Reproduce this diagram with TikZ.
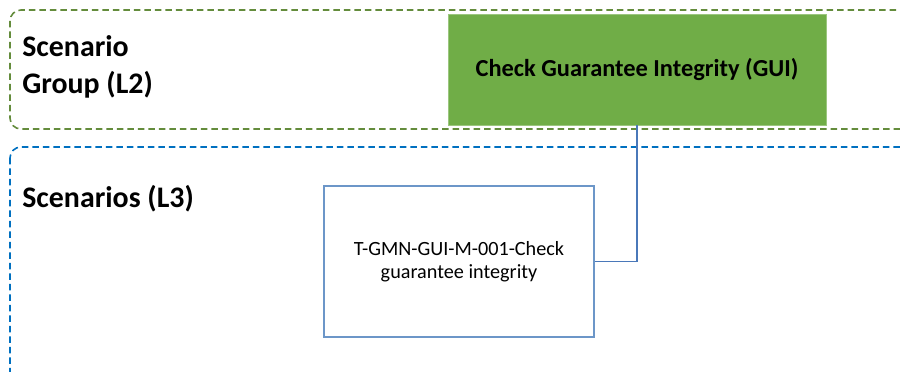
\documentclass[tikz,border=0pt]{standalone}
\usepackage{fontspec}
\setmainfont{Carlito}
\usepackage{tikz}
\definecolor{grpgreen}{RGB}{112,173,71}
\definecolor{grpdash}{RGB}{100,140,60}
\definecolor{scndash}{RGB}{0,112,192}
\definecolor{caseblue}{RGB}{108,150,200}
\definecolor{linkblue}{RGB}{74,120,185}

\begin{document}
\begin{tikzpicture}[x=0.02cm, y=-0.02cm,
	lanegrp/.style={draw=grpdash, dashed, dash pattern=on 0.13cm off 0.08cm, line width=0.9pt, rounded corners=0.22cm},
	lanescn/.style={draw=scndash, dashed, dash pattern=on 0.13cm off 0.08cm, line width=0.9pt, rounded corners=0.22cm},
	lanelbl/.style={anchor=base west, align=left, inner sep=0pt, font=\fontsize{17}{20.5}\selectfont\bfseries},
	grpbox/.style={fill=grpgreen, draw=grpgreen!70!white, line width=0.4pt, minimum width=7.56cm, minimum height=2.22cm, font=\fontsize{13.9}{16}\selectfont\bfseries},
	casebox/.style={draw=caseblue, line width=0.9pt, minimum width=5.4cm, minimum height=3.02cm, align=center, font=\fontsize{11.5}{13}\selectfont}]
	\useasboundingbox (0,0) rectangle (900,372);
	\clip (0,0) rectangle (900,372);
	% swim lanes
	\draw[lanegrp] (10,10) rectangle (940,129);
	\draw[lanescn] (10,147) rectangle (940,420);
	\node[lanelbl] (l2) at (22,93) {Scenario\\Group (L2)};
	\node[lanelbl] (l3) at (22,207) {Scenarios (L3)};
	% boxes
	\node[grpbox] (grp) at (637,69.5) {Check Guarantee Integrity (GUI)};
	\node[casebox] (case) at (459,261.5) {T-GMN-GUI-M-001-Check\\guarantee integrity};
	\draw[linkblue, line width=0.8pt] (grp.south) |- (case.east);
\end{tikzpicture}
\end{document}
